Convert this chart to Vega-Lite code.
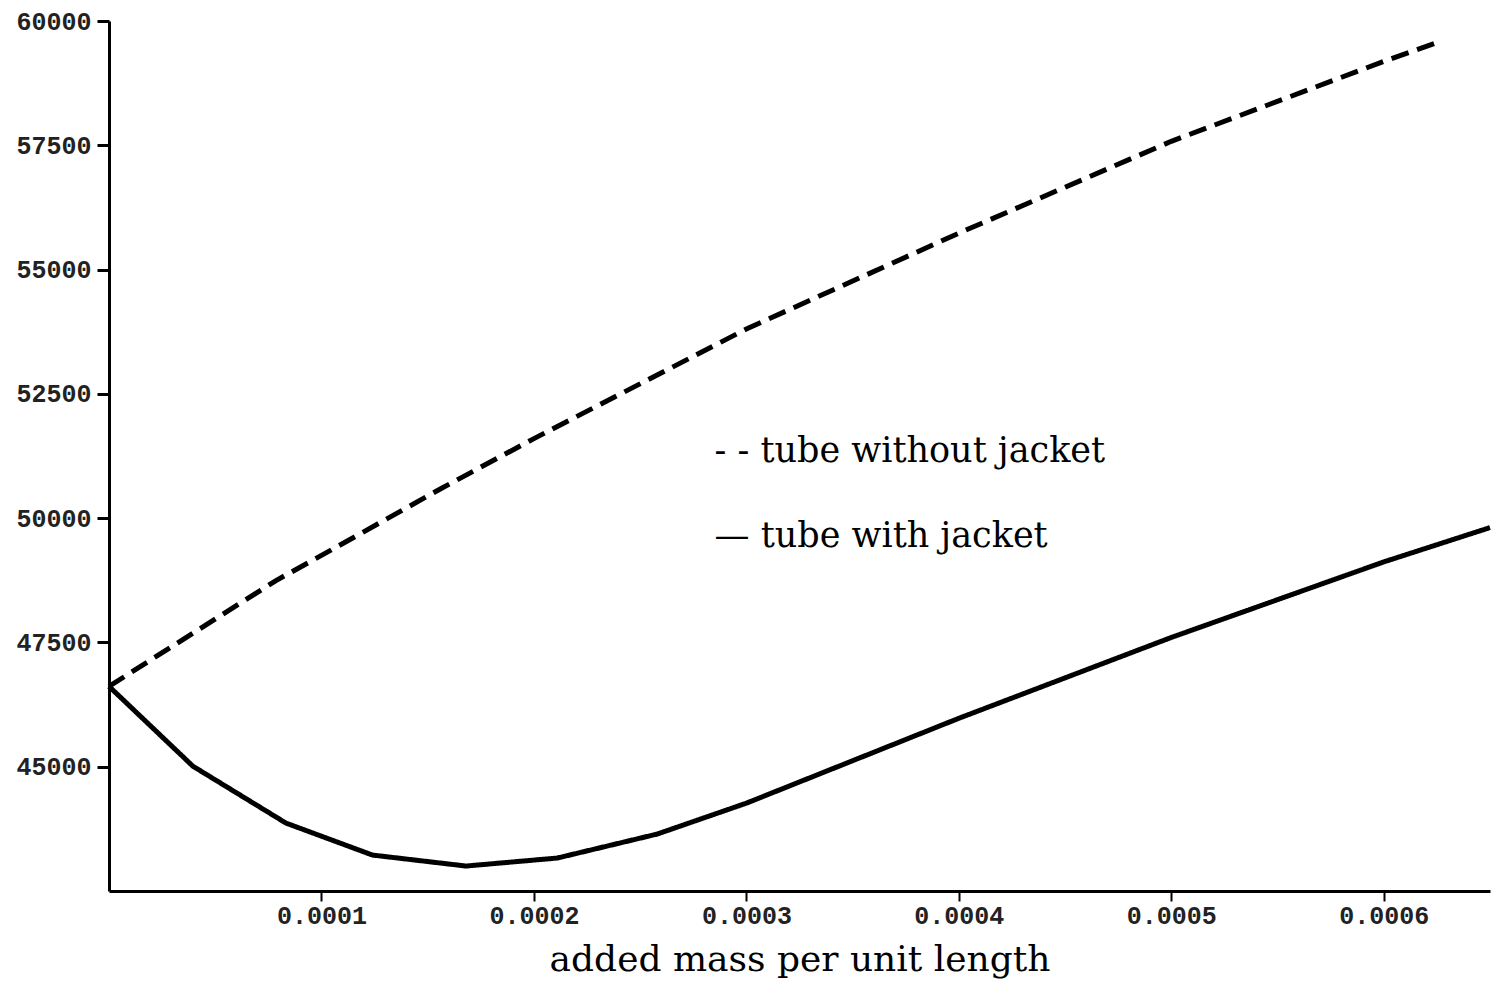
{
  "$schema": "https://vega.github.io/schema/vega-lite/v6.json",
  "width": 1381,
  "height": 870,
  "autosize": "none",
  "padding": {"left": 109, "top": 21, "right": 10, "bottom": 99},
  "background": "white",
  "config": {"view": {"stroke": null}},
  "datasets": {
    "curves": [
      {"series": "with", "mass": 0, "value": 46616},
      {"series": "with", "mass": 0.0000395, "value": 45010},
      {"series": "with", "mass": 0.0000833, "value": 43866},
      {"series": "with", "mass": 0.000124, "value": 43223},
      {"series": "with", "mass": 0.000168, "value": 43002},
      {"series": "with", "mass": 0.000211, "value": 43163},
      {"series": "with", "mass": 0.000258, "value": 43645},
      {"series": "with", "mass": 0.0003, "value": 44267},
      {"series": "with", "mass": 0.0004, "value": 45974},
      {"series": "with", "mass": 0.0005, "value": 47600},
      {"series": "with", "mass": 0.0006, "value": 49120},
      {"series": "with", "mass": 0.00065, "value": 49810},
      {"series": "without", "mass": 0, "value": 46616},
      {"series": "without", "mass": 0.0000786, "value": 48745},
      {"series": "without", "mass": 0.0001, "value": 49250},
      {"series": "without", "mass": 0.000157, "value": 50612},
      {"series": "without", "mass": 0.0002, "value": 51600},
      {"series": "without", "mass": 0.0003, "value": 53805},
      {"series": "without", "mass": 0.0004, "value": 55733},
      {"series": "without", "mass": 0.0005, "value": 57580},
      {"series": "without", "mass": 0.0006, "value": 59187},
      {"series": "without", "mass": 0.000624, "value": 59548}
    ],
    "labels": [
      {"label": "- - tube without jacket", "mass": 0.000285, "value": 51356},
      {"label": "— tube with jacket", "mass": 0.000285, "value": 49649}
    ]
  },
  "layer": [
    {
      "data": {"name": "curves"},
      "mark": {"type": "line", "strokeWidth": 5, "color": "black", "strokeCap": "butt"},
      "encoding": {
        "x": {
          "field": "mass", "type": "quantitative",
          "scale": {"domain": [0, 0.00065], "nice": false, "zero": false},
          "axis": {
            "title": "added mass per unit length",
            "values": [0.0001, 0.0002, 0.0003, 0.0004, 0.0005, 0.0006],
            "format": ".4f",
            "grid": false,
            "domainColor": "black", "domainWidth": 3,
            "tickColor": "black", "tickWidth": 2, "tickSize": 10,
            "labelFont": "Liberation Mono", "labelFontSize": 25, "labelFontWeight": "bold", "labelColor": "#222",
            "labelPadding": 2,
            "titleFont": "DejaVu Serif", "titleFontSize": 36, "titleFontWeight": "normal",
            "titleColor": "black", "titlePadding": 14
          }
        },
        "y": {
          "field": "value", "type": "quantitative",
          "scale": {"domain": [42500, 60000], "nice": false, "zero": false},
          "axis": {
            "title": null,
            "values": [45000, 47500, 50000, 52500, 55000, 57500, 60000],
            "format": "d",
            "grid": false,
            "domainColor": "black", "domainWidth": 3,
            "tickColor": "black", "tickWidth": 3, "tickSize": 12,
            "labelFont": "Liberation Mono", "labelFontSize": 25, "labelFontWeight": "bold", "labelColor": "#222",
            "labelPadding": 6
          }
        },
        "detail": {"field": "series"},
        "strokeDash": {
          "field": "series", "type": "nominal",
          "scale": {"domain": ["with", "without"], "range": [[1, 0], [18, 9]]},
          "legend": null
        }
      }
    },
    {
      "data": {"name": "labels"},
      "mark": {"type": "text", "align": "left", "baseline": "middle", "font": "DejaVu Serif", "fontSize": 35, "color": "black"},
      "encoding": {
        "x": {"field": "mass", "type": "quantitative"},
        "y": {"field": "value", "type": "quantitative"},
        "text": {"field": "label"}
      }
    }
  ]
}
